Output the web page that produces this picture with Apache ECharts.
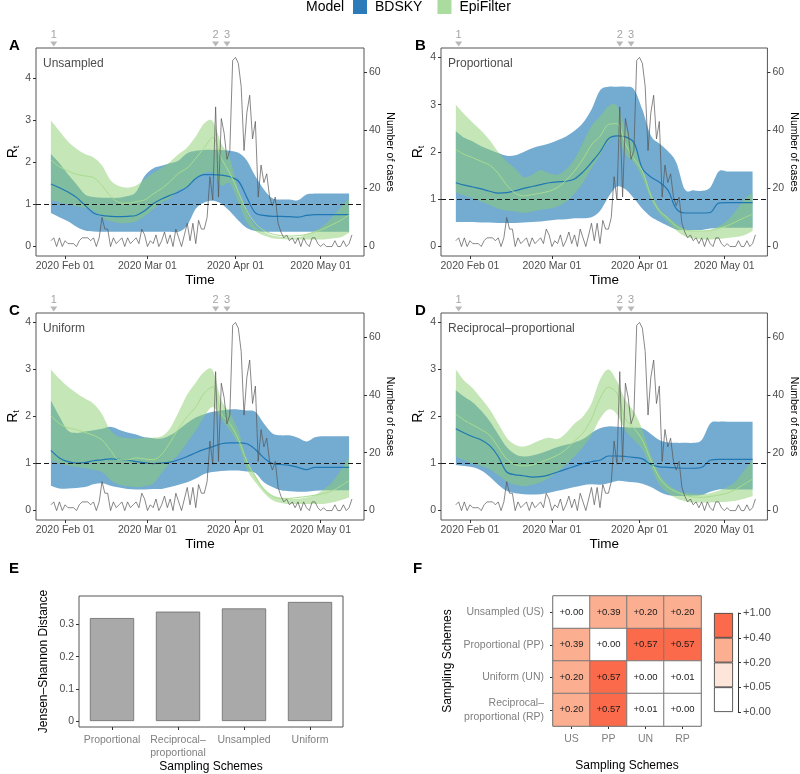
<!DOCTYPE html>
<html><head><meta charset="utf-8">
<script src="https://cdn.jsdelivr.net/npm/echarts@6/dist/echarts.min.js"></script>
<style>html,body{margin:0;padding:0;background:#fff}#c{width:800px;height:774px}</style>
</head><body><div id="c"></div>
<script>
const FONT = '"Liberation Sans", Arial, Helvetica, sans-serif';

// ---- shared time data (day-of-year 2020, Jan 1 = 0) ----
const bandDays = [26,29,32,35,38,41,44,47,50,53,56,59,62,65,68,71,74,77,80,83,86,89,92,95,98,101,104,107,110,113,116,119,122,125,128,131];
const caseStartDay = 26;
const cases = [2,3,0,3,0,2,1,1,1,0, 2,3,3,3,2,3,0,3,10,6, 6,0,3,1,2,3,0,3,1,2, 3,1,6,4,0,2,1,4,0,2,
  5,1,4,0,6,3,0,4,8,2, 8,1,9,6,6,10,24,16,48,17, 44,39,30,33,64,65,63,55,33,46, 52,37,43,17,28,22,25,17,14,17,
  8,5,3,4,2,3,1,3,0,3, 1,0,3,3,1,0,1,0,0,0, 2,0,0,2,0,1,4];
const monthTickDays = [31,60,91,121];
const monthTickLabels = ['2020 Feb 01','2020 Mar 01','2020 Apr 01','2020 May 01'];
const eventDays = [27,84,88];
const eventLabels = ['1','2','3'];
const rTicks = [0,1,2,3,4];
const caseTicks = [0,20,40,60];

// ---- Panel A: Unsampled ----
const aBU = [2.2,1.98,1.72,1.48,1.24,1.18,1.16,1.16,1.16,1.2,1.3,1.68,1.86,1.92,1.98,2.05,2.22,2.28,2.3,2.3,2.3,2.28,2.23,2.05,1.67,1.36,1.15,1.12,1.12,1.1,1.24,1.26,1.26,1.26,1.26,1.26];
const aBL = [0.8,0.7,0.6,0.47,0.38,0.36,0.35,0.35,0.35,0.35,0.35,0.35,0.35,0.35,0.35,0.35,0.5,0.9,1.05,1.09,1.02,0.84,0.62,0.44,0.37,0.35,0.35,0.35,0.35,0.35,0.35,0.35,0.35,0.35,0.35,0.35];
const aBM = [1.49,1.4,1.3,1.17,0.98,0.8,0.74,0.72,0.71,0.72,0.74,0.85,1.02,1.13,1.22,1.3,1.42,1.62,1.71,1.71,1.7,1.66,1.56,1.17,0.8,0.74,0.72,0.72,0.71,0.7,0.74,0.76,0.76,0.76,0.76,0.76];
const aGU = [3.0,2.75,2.5,2.33,2.2,2.12,1.93,1.58,1.44,1.4,1.45,1.6,1.75,1.87,2.02,2.2,2.36,2.62,2.93,2.98,2.45,2.1,1.35,0.8,0.48,0.35,0.26,0.23,0.22,0.22,0.29,0.37,0.5,0.7,0.93,1.15];
const aGL = [1.1,1.05,1.0,0.96,0.92,0.85,0.7,0.6,0.56,0.56,0.6,0.72,0.89,1.05,1.15,1.35,1.4,1.6,1.75,1.75,1.45,1.5,1.05,0.58,0.37,0.26,0.2,0.18,0.17,0.17,0.17,0.17,0.17,0.19,0.22,0.33];
const aGM = [2.06,1.9,1.8,1.72,1.68,1.64,1.45,1.2,1.05,1.03,1.07,1.11,1.25,1.38,1.55,1.75,1.87,2.1,2.35,2.6,2.1,1.75,1.3,0.85,0.55,0.38,0.3,0.26,0.25,0.26,0.29,0.35,0.42,0.52,0.62,0.76];
// ---- Panel B: Proportional ----
const bBU = [2.44,2.3,2.22,2.12,2.05,1.98,1.92,1.93,2.0,2.08,2.13,2.18,2.25,2.33,2.45,2.62,2.9,3.3,3.38,3.38,3.38,3.33,2.9,2.35,2.18,2.02,1.78,1.21,1.19,1.18,1.25,1.59,1.59,1.59,1.59,1.59];
const bBL = [0.52,0.52,0.52,0.51,0.51,0.5,0.5,0.5,0.51,0.52,0.53,0.55,0.57,0.58,0.6,0.6,0.62,0.75,1.05,1.27,1.21,1.02,0.8,0.63,0.53,0.44,0.36,0.35,0.35,0.35,0.38,0.4,0.4,0.4,0.4,0.4];
const bBM = [1.35,1.3,1.26,1.22,1.17,1.13,1.14,1.18,1.23,1.27,1.31,1.35,1.37,1.38,1.43,1.58,1.78,2.0,2.28,2.34,2.32,2.2,1.65,1.47,1.36,1.2,0.8,0.71,0.71,0.71,0.72,0.92,0.93,0.93,0.93,0.93];
const bGU = [3.0,2.8,2.62,2.45,2.25,2.0,1.8,1.65,1.47,1.52,1.62,1.55,1.52,1.63,1.85,2.2,2.55,2.75,2.97,2.98,2.5,2.13,1.65,1.15,0.8,0.63,0.48,0.37,0.34,0.33,0.35,0.43,0.55,0.75,1.0,1.14];
const bGL = [1.15,1.08,1.02,0.95,0.88,0.8,0.76,0.74,0.71,0.74,0.78,0.8,0.85,0.95,1.12,1.35,1.65,1.93,2.22,2.32,1.95,1.78,1.45,1.0,0.7,0.52,0.34,0.22,0.17,0.15,0.15,0.16,0.18,0.2,0.24,0.33];
const bGM = [2.05,1.95,1.88,1.8,1.72,1.55,1.3,1.13,1.07,1.1,1.13,1.17,1.25,1.4,1.6,1.85,2.15,2.33,2.58,2.6,2.17,1.86,1.6,1.08,0.76,0.6,0.43,0.35,0.33,0.33,0.34,0.38,0.44,0.52,0.61,0.68];
// ---- Panel C: Uniform ----
const cBU = [2.34,2.0,1.7,1.65,1.68,1.71,1.74,1.78,1.72,1.66,1.62,1.56,1.54,1.53,1.6,1.72,1.86,1.98,2.05,2.1,2.13,2.15,2.15,2.13,2.1,1.85,1.64,1.6,1.6,1.55,1.47,1.56,1.58,1.58,1.58,1.58];
const cBL = [0.53,0.47,0.47,0.48,0.5,0.56,0.58,0.53,0.49,0.46,0.45,0.45,0.46,0.46,0.5,0.55,0.6,0.68,0.78,0.82,0.84,0.85,0.85,0.83,0.8,0.6,0.5,0.43,0.41,0.4,0.4,0.42,0.43,0.43,0.43,0.43];
const cBM = [1.28,1.12,1.04,1.01,1.02,1.06,1.08,1.1,1.09,1.07,1.04,1.02,1.0,1.01,1.03,1.08,1.15,1.23,1.3,1.36,1.42,1.44,1.44,1.42,1.3,1.12,1.0,0.98,0.96,0.92,0.87,0.92,0.92,0.92,0.92,0.92];
const cGU = [3.0,2.8,2.63,2.5,2.38,2.27,2.05,1.7,1.57,1.54,1.53,1.55,1.55,1.58,1.75,2.1,2.47,2.72,2.95,2.98,2.35,2.08,1.7,1.08,0.75,0.48,0.33,0.27,0.25,0.25,0.28,0.33,0.45,0.6,0.85,1.14];
const cGL = [1.07,1.0,0.96,0.93,0.9,0.87,0.82,0.65,0.55,0.52,0.5,0.52,0.57,0.8,1.02,1.2,1.45,1.7,2.0,2.2,1.95,1.7,1.4,0.88,0.6,0.38,0.22,0.16,0.14,0.14,0.14,0.14,0.14,0.17,0.22,0.28];
const cGM = [2.02,1.85,1.76,1.72,1.66,1.6,1.5,1.28,1.08,1.08,1.12,1.1,1.08,1.2,1.45,1.75,2.0,2.2,2.5,2.63,2.06,1.85,1.52,1.05,0.72,0.45,0.3,0.26,0.26,0.28,0.3,0.33,0.36,0.42,0.52,0.64];
// ---- Panel D: Reciprocal-proportional ----
const dBU = [2.56,2.42,2.3,2.12,1.9,1.62,1.35,1.2,1.15,1.17,1.22,1.28,1.35,1.4,1.45,1.52,1.65,1.75,1.79,1.78,1.77,1.76,1.75,1.63,1.5,1.45,1.44,1.44,1.44,1.5,1.85,1.89,1.89,1.89,1.89,1.89];
const dBL = [0.97,0.95,0.92,0.85,0.72,0.55,0.42,0.37,0.35,0.34,0.35,0.38,0.42,0.46,0.5,0.54,0.56,0.55,0.58,0.63,0.62,0.6,0.57,0.5,0.4,0.33,0.31,0.31,0.32,0.33,0.4,0.45,0.45,0.45,0.45,0.45];
const dBM = [1.74,1.65,1.57,1.5,1.38,1.15,0.82,0.76,0.74,0.71,0.72,0.76,0.82,0.88,0.94,1.0,1.04,1.07,1.16,1.16,1.15,1.13,1.1,0.98,0.93,0.92,0.91,0.9,0.9,0.92,1.07,1.09,1.09,1.09,1.09,1.09];
const dGU = [3.0,2.76,2.6,2.38,2.15,1.85,1.55,1.4,1.36,1.42,1.5,1.55,1.52,1.65,1.85,2.0,2.28,2.78,3.0,2.75,2.35,2.1,1.72,1.18,0.78,0.56,0.44,0.38,0.36,0.35,0.37,0.42,0.5,0.62,0.85,1.09];
const dGL = [1.15,1.07,1.0,0.95,0.88,0.75,0.62,0.55,0.52,0.55,0.6,0.7,0.82,0.98,1.15,1.35,1.6,1.95,2.15,2.05,1.7,1.5,1.3,0.92,0.55,0.38,0.26,0.2,0.17,0.17,0.17,0.18,0.19,0.21,0.25,0.31];
const dGM = [2.05,1.92,1.82,1.72,1.6,1.35,1.1,0.98,0.95,0.97,1.03,1.1,1.18,1.3,1.48,1.65,1.95,2.38,2.62,2.5,1.95,1.75,1.5,1.07,0.7,0.5,0.4,0.33,0.29,0.28,0.3,0.33,0.37,0.45,0.56,0.67];

// ---- Panel E ----
const eCategories = ['Proportional','Reciprocal–\nproportional','Unsampled','Uniform'];
const eValues = [0.32,0.34,0.35,0.37];
const eTicks = [0,0.1,0.2,0.3];
const eTickLabels = ['0','0.1','0.2','0.3'];
// ---- Panel F ----
const fCols = ['US','PP','UN','RP'];
const fRows = ['Unsampled (US)','Proportional (PP)','Uniform (UN)','Reciprocal–\nproportional (RP)'];
const fMatrix = [
  [0.00,0.39,0.20,0.20],
  [0.39,0.00,0.57,0.57],
  [0.20,0.57,0.00,0.01],
  [0.20,0.57,0.01,0.00]
];
const fBreaks = [0,0.05,0.2,0.4,1];
const fBreakLabels = ['+0.00','+0.05','+0.20','+0.40','+1.00'];
const fColors = ['#ffffff','#fee5d9','#fcae91','#fb6a4a'];

const panels = [
  {grid:{left:36,top:48,width:328,height:208}, rMin:-0.225, rMax:4.725, label:'Unsampled', letter:'A',
   BU:aBU,BL:aBL,BM:aBM,GU:aGU,GL:aGL,GM:aGM, rGap:15},
  {grid:{left:441,top:48,width:327,height:208}, rMin:-0.2, rMax:4.2, label:'Proportional', letter:'B',
   BU:bBU,BL:bBL,BM:bBM,GU:bGU,GL:bGL,GM:bGM, rGap:14},
  {grid:{left:36,top:313,width:328,height:207}, rMin:-0.2, rMax:4.2, label:'Uniform', letter:'C',
   BU:cBU,BL:cBL,BM:cBM,GU:cGU,GL:cGL,GM:cGM, rGap:15},
  {grid:{left:441,top:313,width:328,height:207}, rMin:-0.2, rMax:4.2, label:'Reciprocal–proportional', letter:'D',
   BU:dBU,BL:dBL,BM:dBM,GU:dGU,GL:dGL,GM:dGM, rGap:14}
];
const caseMin = -3.25, caseMax = 68.25;

const BLUE = '#1f78b4';
const grids = [], xAxes = [], yAxes = [], series = [], titles = [];
const zip = (xs, ys) => xs.map((x, i) => [x, ys[i]]);
const tickColor = '#333', labColor = '#4d4d4d', borderCol = '#555';

// Catmull-Rom -> cubic Bezier path through pixel points (rendering only)
function crSegments(pts) {
  let d = '';
  for (let i = 0; i < pts.length - 1; i++) {
    const p0 = pts[i - 1] || pts[i], p1 = pts[i], p2 = pts[i + 1], p3 = pts[i + 2] || p2;
    const c1 = [p1[0] + (p2[0] - p0[0]) / 6, p1[1] + (p2[1] - p0[1]) / 6];
    const c2 = [p2[0] - (p3[0] - p1[0]) / 6, p2[1] - (p3[1] - p1[1]) / 6];
    d += ' C' + c1[0].toFixed(2) + ',' + c1[1].toFixed(2) + ' ' + c2[0].toFixed(2) + ',' + c2[1].toFixed(2) + ' ' + p2[0].toFixed(2) + ',' + p2[1].toFixed(2);
  }
  return d;
}
function bandSeries(name, g, yl, days, lower, upper, fill) {
  return {type:'custom', name:name, xAxisIndex:g, yAxisIndex:yl, silent:true, clip:true,
    data:days.map((d, i) => [d, lower[i], upper[i]]),
    encode:{x:0, y:[1, 2]},
    renderItem:(params, api) => {
      if (params.dataIndex !== 0) return null;
      const up = days.map((d, i) => api.coord([d, upper[i]]));
      const lo = days.map((d, i) => api.coord([d, lower[i]])).reverse();
      const pathData = 'M' + up[0][0].toFixed(2) + ',' + up[0][1].toFixed(2) + crSegments(up) +
        ' L' + lo[0][0].toFixed(2) + ',' + lo[0][1].toFixed(2) + crSegments(lo) + ' Z';
      return {type:'path', shape:{pathData:pathData}, style:{fill:fill, stroke:null}};
    }};
}

panels.forEach((p, g) => {
  grids.push(Object.assign({show:true, borderColor:borderCol, borderWidth:1, backgroundColor:'transparent'}, p.grid));
  xAxes.push({gridIndex:g, type:'value', min:20.75, max:136.25,
    axisLine:{show:false, onZero:false},
    axisTick:{show:true, length:3, customValues:monthTickDays, lineStyle:{color:tickColor}},
    axisLabel:{customValues:monthTickDays, formatter:v => monthTickLabels[monthTickDays.indexOf(v)], fontSize:10.5, color:labColor, margin:5},
    splitLine:{show:false},
    name:'Time', nameLocation:'middle', nameGap:15, nameTextStyle:{fontSize:13.5, color:'#000'}});
  yAxes.push({gridIndex:g, type:'value', position:'left', min:p.rMin, max:p.rMax,
    axisLine:{show:false, onZero:false},
    axisTick:{show:true, length:3, customValues:rTicks, lineStyle:{color:tickColor}},
    axisLabel:{customValues:rTicks, formatter:v => String(v), fontSize:10.5, color:labColor, margin:5},
    splitLine:{show:false},
    name:'{r|R}{t|t}', nameLocation:'middle', nameRotate:90, nameGap:p.rGap,
    nameTextStyle:{rich:{r:{fontSize:14, color:'#000'}, t:{fontSize:9, color:'#000', padding:[7,0,0,0]}}}});
  yAxes.push({gridIndex:g, type:'value', position:'right', min:caseMin, max:caseMax,
    axisLine:{show:false, onZero:false},
    axisTick:{show:true, length:3, customValues:caseTicks, lineStyle:{color:tickColor}},
    axisLabel:{customValues:caseTicks, formatter:v => String(v), fontSize:10.5, color:labColor, margin:5},
    splitLine:{show:false},
    name:'Number of cases', nameLocation:'middle', nameRotate:-90, nameGap:14,
    nameTextStyle:{fontSize:10.5, color:'#000'}});
  const yl = 2*g, yr = 2*g+1;
  series.push(bandSeries('BDSKY', g, yl, bandDays, p.BL, p.BU, 'rgba(31,120,180,0.62)'));
  series.push(bandSeries('EpiFilter', g, yl, bandDays, p.GL, p.GU, 'rgba(140,205,110,0.5)'));
  const common = {type:'line', xAxisIndex:g, yAxisIndex:yl, symbol:'none', smooth:0.35, silent:true};
  series.push(Object.assign({}, common, {name:'BDSKY', data:zip(bandDays, p.BM), lineStyle:{color:BLUE, width:1.2}}));
  series.push(Object.assign({}, common, {name:'EpiFilter', data:zip(bandDays, p.GM), lineStyle:{color:'#a8dc90', width:1}}));
  series.push({type:'line', name:'cases', xAxisIndex:g, yAxisIndex:yr, symbol:'none', silent:true,
    data:cases.map((v, i) => [caseStartDay + i, v]), lineStyle:{color:'#555', width:0.7}, z:3});
  series.push({type:'line', name:'ref', xAxisIndex:g, yAxisIndex:yl, symbol:'none', silent:true, data:[],
    markLine:{silent:true, symbol:['none','none'], label:{show:false}, animation:false,
      lineStyle:{color:'#1a1a1a', type:[5,3], width:1}, data:[{yAxis:1}]}, z:4});
  series.push({type:'scatter', name:'events', xAxisIndex:g, yAxisIndex:yl, clip:false, silent:true,
    data:eventDays.map(d => [d, p.rMax]), symbol:'path://M0,0 L8,0 L4,6 Z', symbolSize:[7,5], symbolOffset:[0,-4],
    itemStyle:{color:'#a6a6a6'},
    label:{show:true, position:'top', distance:1, formatter:q => eventLabels[q.dataIndex], fontSize:11, color:'#8c8c8c'}});
  titles.push({text:p.letter, left:p.grid.left - (g%2 ? 26 : 27), top:p.grid.top - 10, padding:0,
    textStyle:{fontSize:15, fontWeight:'bold', color:'#000'}});
  titles.push({text:p.label, left:p.grid.left + 7, top:p.grid.top + 10, padding:0,
    textStyle:{fontSize:12, fontWeight:'normal', color:labColor}});
});

// ---- Panel E grid (index 4) ----
grids.push({left:79, top:596, width:264, height:131, show:true, borderColor:borderCol, borderWidth:1});
xAxes.push({gridIndex:4, type:'category', data:eCategories,
  axisLine:{show:false, onZero:false}, axisTick:{show:true, alignWithLabel:true, length:3, lineStyle:{color:tickColor}},
  axisLabel:{fontSize:10.5, color:'#808080', margin:7, lineHeight:13, interval:0},
  name:'Sampling Schemes', nameLocation:'middle', nameGap:33, nameTextStyle:{fontSize:12, color:'#000'}});
yAxes.push({gridIndex:4, type:'value', min:-0.0185, max:0.3885,
  axisLine:{show:false, onZero:false}, splitLine:{show:false},
  axisTick:{show:true, length:3, customValues:eTicks, lineStyle:{color:tickColor}},
  axisLabel:{customValues:eTicks, formatter:v => eTickLabels[eTicks.indexOf(v)], fontSize:10.5, color:labColor, margin:5},
  name:'Jensen–Shannon Distance', nameLocation:'middle', nameRotate:90, nameGap:29, nameTextStyle:{fontSize:12, color:'#000'}});
series.push({type:'bar', name:'JSD', xAxisIndex:4, yAxisIndex:8, data:eValues, barWidth:'67%', silent:true,
  itemStyle:{color:'#a9a9a9', borderColor:'#6b6b6b', borderWidth:0.8}});

// ---- Panel F heatmap (grid 5) ----
grids.push({left:553, top:596, width:148, height:130, show:true, borderColor:borderCol, borderWidth:1});
xAxes.push({gridIndex:5, type:'category', data:fCols,
  axisLine:{show:false}, axisTick:{show:true, alignWithLabel:true, length:3, lineStyle:{color:tickColor}},
  axisLabel:{fontSize:10.5, color:'#808080', margin:8},
  splitLine:{show:false},
  name:'Sampling Schemes', nameLocation:'middle', nameGap:34, nameTextStyle:{fontSize:12, color:'#000'}});
yAxes.push({gridIndex:5, type:'category', data:fRows, inverse:true,
  axisLine:{show:false}, axisTick:{show:true, alignWithLabel:true, length:3, lineStyle:{color:tickColor}},
  axisLabel:{fontSize:10.5, color:'#808080', margin:9, lineHeight:14, align:'right'},
  splitLine:{show:false},
  name:'Sampling Schemes', nameLocation:'middle', nameRotate:90, nameGap:99, nameTextStyle:{fontSize:12, color:'#000'}});
const heatData = [];
fMatrix.forEach((row, r) => row.forEach((v, c) => heatData.push([c, r, v])));
const heatIndex = series.length;
series.push({type:'heatmap', name:'heat', xAxisIndex:5, yAxisIndex:9, data:heatData, silent:true,
  itemStyle:{borderColor:'#7a7a7a', borderWidth:1},
  label:{show:true, formatter:q => '+' + q.value[2].toFixed(2), fontSize:9.5, color:'#1a1a1a'}});

// ---- Colour-steps legend (grid 6) ----
grids.push({left:714, top:613, width:19, height:99, show:false});
xAxes.push({gridIndex:6, type:'category', data:['k'], show:false});
const stepIdx = fBreaks.map((b, i) => i);
yAxes.push({gridIndex:6, type:'value', position:'right', offset:5, min:0, max:fBreaks.length - 1,
  axisLine:{show:true, lineStyle:{color:'#333', width:1}},
  axisTick:{show:true, length:3, inside:false, customValues:stepIdx, lineStyle:{color:'#333'}},
  axisLabel:{customValues:stepIdx, formatter:v => fBreakLabels[v], fontSize:11, color:labColor, margin:5},
  splitLine:{show:false}});
fColors.forEach((col, i) => {
  series.push({type:'bar', name:'step' + i, xAxisIndex:6, yAxisIndex:10, stack:'cb', data:[1], barWidth:'100%', silent:true,
    itemStyle:{color:col, borderColor:'#333', borderWidth:0.8}});
});

titles.push({text:'E', left:9, top:561, padding:0, textStyle:{fontSize:15, fontWeight:'bold', color:'#000'}});
titles.push({text:'F', left:413, top:561, padding:0, textStyle:{fontSize:15, fontWeight:'bold', color:'#000'}});
titles.push({text:'Model', left:306, top:0, padding:0, textStyle:{fontSize:14, fontWeight:'normal', color:'#000'}});

const chart = echarts.init(document.getElementById('c'), null, {renderer:'canvas'});
chart.setOption({
  animation:false,
  backgroundColor:'#fff',
  textStyle:{fontFamily:FONT},
  title:titles,
  legend:{left:353, top:0, padding:0, itemWidth:14, itemHeight:14, itemGap:15, icon:'rect',
    textStyle:{fontSize:14, color:'#000', padding:[0,0,0,3]},
    data:[{name:'BDSKY', itemStyle:{color:'#2b7bba'}}, {name:'EpiFilter', itemStyle:{color:'#a9dc9e'}}],
    selectedMode:false},
  visualMap:{type:'piecewise', show:false, seriesIndex:heatIndex, dimension:2,
    pieces:fColors.map((col, i) => ({gte:fBreaks[i], lt:fBreaks[i+1] + (i === fColors.length - 1 ? 1e-9 : 0), color:col}))},
  grid:grids, xAxis:xAxes, yAxis:yAxes, series:series
});
</script></body></html>
